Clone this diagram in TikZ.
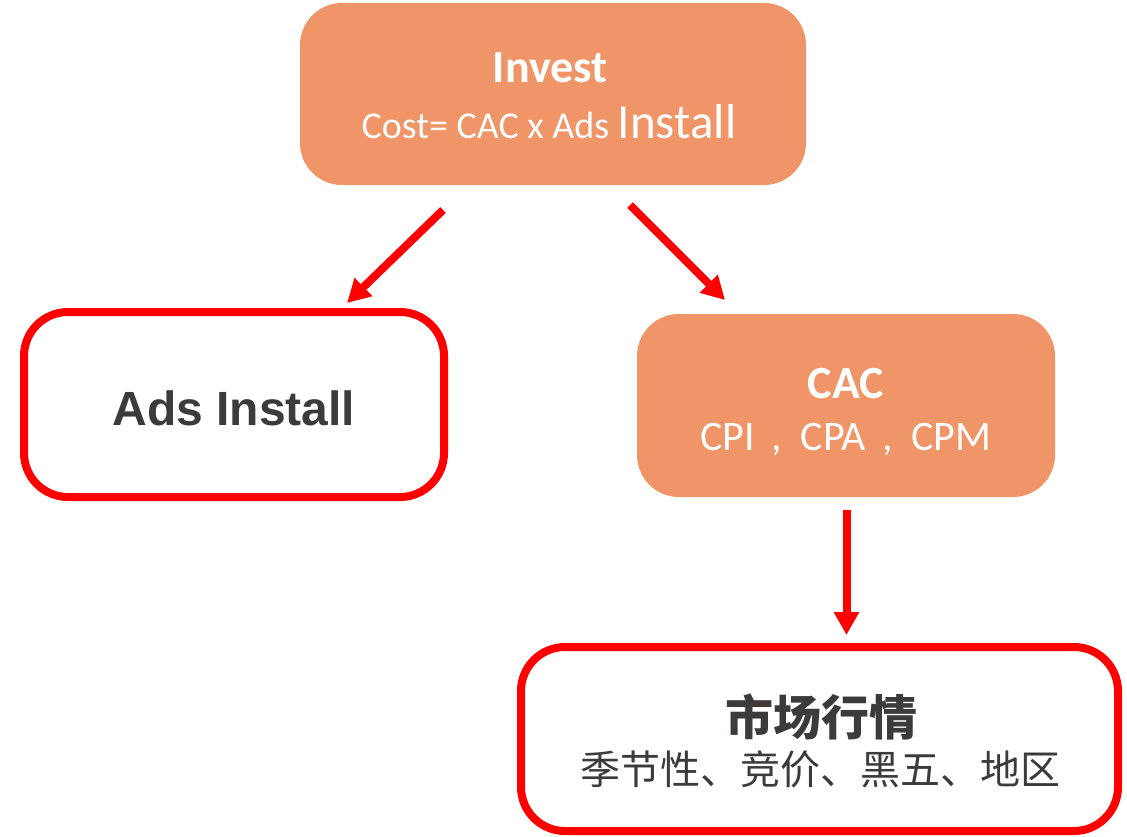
\documentclass[tikz,border=0pt]{standalone}
\usepackage{fontspec}
\setmainfont{Carlito}
\newfontfamily\arialf{Liberation Sans}
\newfontfamily\cjk{Noto Sans CJK SC}
\usetikzlibrary{arrows.meta}
\definecolor{boxorange}{HTML}{F09568}
\definecolor{darktext}{HTML}{3C3B3A}
\definecolor{linkred}{HTML}{FF0000}
% spaced comma between the cost models
\newcommand{\widecomma}{\hspace{16pt},\hspace{19pt}}
\begin{document}
\begin{tikzpicture}[x=1pt,y=-1pt,
  filledbox/.style={rectangle, rounded corners=42pt, fill=boxorange, draw=none,
    inner sep=0pt},
  framedbox/.style={rectangle, rounded corners=44pt, draw=linkred, line width=8pt,
    fill=white, inner sep=0pt},
  label/.style={anchor=base, inner sep=0pt},
  flow/.style={draw=linkred, line width=8pt,
    -{Triangle[length=23pt,width=24pt]}}]

% canvas
\fill[white] (0,0) rectangle (1127,836);
\useasboundingbox (0,0) rectangle (1127,836);

% boxes
\node[filledbox, minimum width=506pt, minimum height=182pt] (invest) at (553,94) {};
\node[framedbox, minimum width=420pt, minimum height=185pt] (ads) at (234,404.5) {};
\node[filledbox, minimum width=418pt, minimum height=183pt] (cac) at (846,405.5) {};
\node[framedbox, minimum width=597pt, minimum height=184pt] (market) at (819.5,739) {};

% box texts
\node[label, text=white] (investtitle) at (550,82) {\fontsize{46}{50}\selectfont\bfseries Invest};
\node[label, text=white] (investformula) at (549,138)
  {\fontsize{38}{44}\selectfont Cost= CAC x Ads \fontsize{49}{54}\selectfont Install};

\node[label, text=darktext] (adstext) at (234,425)
  {\arialf\bfseries\fontsize{48}{54}\selectfont Ads Install};

\node[label, text=white] (cactitle) at (846,398) {\fontsize{46}{50}\selectfont\bfseries CAC};
\node[label, text=white] (cacitems) at (846,450)
  {\fontsize{42}{48}\selectfont CPI\widecomma CPA\widecomma CPM};

\node[label, text=darktext] (markettitle) at (821,735)
  {\cjk\bfseries\fontsize{48}{54}\selectfont 市场行情};
\node[label, text=darktext] (marketitems) at (820,784)
  {\cjk\fontsize{40}{46}\selectfont 季节性、竞价、黑五、地区};

% connector end points
\coordinate (a1s) at (443,210);
\coordinate (a1e) at (347,303);
\coordinate (a2s) at (630,205);
\coordinate (a2e) at (725,300);
\coordinate (a3s) at (846.5,510);
\coordinate (a3e) at (846.5,635);

% connectors
\draw[flow] (a1s) -- (a1e);
\draw[flow] (a2s) -- (a2e);
\draw[flow] (a3s) -- (a3e);
\end{tikzpicture}
\end{document}
